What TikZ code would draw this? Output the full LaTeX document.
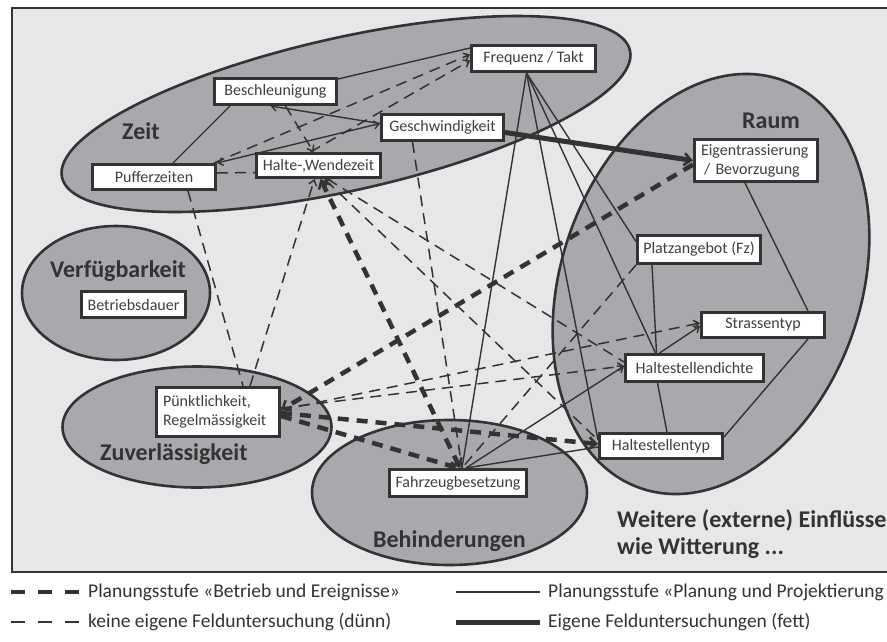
\documentclass[tikz,border=0pt]{standalone}
\usepackage{fontspec}
\setmainfont{Carlito}
\usetikzlibrary{arrows.meta,calc}
\pgfdeclarelayer{panel}
\pgfdeclarelayer{links}
\pgfsetlayers{panel,links,main}
\definecolor{ink}{HTML}{333333}
\definecolor{boxtext}{HTML}{3F3F3F}
\definecolor{panelgray}{HTML}{E6E7E8}
\definecolor{clustergray}{HTML}{A7A9AC}
\begin{document}
\begin{tikzpicture}[x=1pt,y=-1pt,
  factor/.style={draw=ink, line width=3pt, fill=white, text=boxtext,
    font=\fontsize{16}{19}\selectfont, inner sep=0pt},
  cluster/.style={draw=ink, line width=2.6pt, fill=clustergray},
  clusterlabel/.style={text=ink, font=\fontsize{24}{27}\selectfont\bfseries, inner sep=0pt},
  legendtext/.style={text=ink, font=\fontsize{19.5}{22}\selectfont, inner sep=0pt, anchor=west},
  plain/.style={draw=ink, line width=1.4pt},
  weakdash/.style={draw=ink, line width=1.5pt, dash pattern=on 11pt off 7pt},
  strongdash/.style={draw=ink, line width=4.5pt, dash pattern=on 11pt off 8pt},
  strongline/.style={draw=ink, line width=5pt},
  >={Straight Barb[length=5pt,width=8pt]},
  heavy/.style={-{Straight Barb[length=7pt,width=12pt,line width=2.5pt]}},
  heavyboth/.style={{Straight Barb[length=7pt,width=12pt,line width=2.5pt]}-{Straight Barb[length=7pt,width=12pt,line width=2.5pt]}},
]
\useasboundingbox (0,0) rectangle (887,641);

% ---------- factor boxes ----------
\node[factor, minimum width=122pt, minimum height=26pt] (besch)   at (275.5,91.5) {Beschleunigung};
\node[factor, minimum width=124pt, minimum height=26pt] (freq)    at (533.5,58.5) {Frequenz / Takt};
\node[factor, minimum width=122pt, minimum height=26pt] (gesch)   at (442.5,127.5) {Geschwindigkeit};
\node[factor, minimum width=124pt, minimum height=24pt] (halte)   at (318.5,165.5) {Halte-,Wendezeit};
\node[factor, minimum width=123pt, minimum height=25pt] (puffer)  at (154,177) {Pufferzeiten};
\node[factor, minimum width=104pt, minimum height=26pt] (betrieb) at (133.5,304.5) {Betriebsdauer};
\node[factor, minimum width=123pt, minimum height=49pt, text width=110pt, align=left]
  (puenkt) at (218,412) {Pünktlichkeit,\\Regelmässigkeit};
\node[factor, minimum width=137pt, minimum height=27pt] (fahrz)   at (458,483) {Fahrzeugbesetzung};
\node[factor, minimum width=123pt, minimum height=42pt, text width=110pt, align=left]
  (eigen) at (756,160.5) {Eigentrassierung\\\hspace*{3pt}/ Bevorzugung};
\node[factor, minimum width=123pt, minimum height=28pt] (platz)   at (699,249.5) {Platzangebot (Fz)};
\node[factor, minimum width=123pt, minimum height=25pt] (strasse) at (763,325) {Strassentyp};
\node[factor, minimum width=138pt, minimum height=27pt] (hdichte) at (694.5,368) {Haltestellendichte};
\node[factor, minimum width=123pt, minimum height=25pt] (htyp)    at (661,446) {Haltestellentyp};

% ---------- cluster names ----------
\node[clusterlabel, anchor=base west] (lzeit)  at (122,139.5) {Zeit};
\node[clusterlabel, anchor=base west] (lraum)  at (742,128) {Raum};
\node[clusterlabel, anchor=base west] (lverf)  at (50,277) {Verfügbarkeit};
\node[clusterlabel, anchor=base west] (lzuv)   at (100,460) {Zuverlässigkeit};
\node[clusterlabel, anchor=base west] (lbeh)   at (373,547) {Behinderungen};
\node[clusterlabel, anchor=base west] (lext1)  at (617,527) {Weitere (externe) Einflüsse};
\node[clusterlabel, anchor=base west] (lext2)  at (617,554) {wie Witterung ...};

% ---------- legend ----------
\coordinate (la1) at (11,592); \coordinate (lb1) at (79,592);
\coordinate (la2) at (11,622); \coordinate (lb2) at (79,622);
\coordinate (lc1) at (456,592); \coordinate (ld1) at (540,592);
\coordinate (lc2) at (456,622); \coordinate (ld2) at (540,622);
\draw[draw=ink, line width=4pt, dash pattern=on 14pt off 13pt] (la1) -- (lb1);
\draw[draw=ink, line width=1.8pt, dash pattern=on 14pt off 13pt] (la2) -- (lb2);
\draw[plain, line width=1.7pt] (lc1) -- (ld1);
\draw[strongline] (lc2) -- (ld2);
\node[legendtext] (t1) at (88,592) {Planungsstufe «Betrieb und Ereignisse»};
\node[legendtext] (t2) at (88,622) {keine eigene Felduntersuchung (dünn)};
\node[legendtext] (t3) at (548,592) {Planungsstufe «Planung und Projektierung};
\node[legendtext] (t4) at (548,622) {Eigene Felduntersuchungen (fett)};

% ---------- background panel and clusters ----------
\begin{pgfonlayer}{panel}
  \fill[white] (0,0) rectangle (887,641);
  \draw[fill=panelgray, draw=ink, line width=2.5pt] (12,8) rectangle (900,572);
  \draw[cluster, shift={(346,114)}, rotate=12.6] (0,0) ellipse [x radius=291, y radius=76.5];
  \draw[cluster, shift={(711,284)}, rotate=-19] (0,0) ellipse [x radius=150, y radius=216];
  \draw[cluster] (116,293) ellipse [x radius=94, y radius=67];
  \draw[cluster] (197,427) ellipse [x radius=134.5, y radius=60.5];
  \draw[cluster] (449.5,492.5) ellipse [x radius=137.5, y radius=72.5];
\end{pgfonlayer}

% ---------- connectors ----------
\begin{pgfonlayer}{links}
  \coordinate (fq) at ($(freq.south)+(-7,0)$);
  % Zeit cluster
  \draw[plain] ($(besch.north east)+(0,2)$) -- ($(freq.north west)+(0,4)$);
  \draw[plain, ->] ($(gesch.west)+(0,-4)$) -- ($(besch.south)+(-5,0)$);
  \draw[plain, <->] (puffer.north east) -- ($(gesch.west)+(0,-4)$);
  \draw[plain] ($(besch.south west)+(17,0)$) -- ($(puffer.north)+(19,0)$);
  \draw[weakdash] ($(puffer.east)+(0,-4)$) -- ($(halte.west)+(0,7)$);
  \draw[weakdash, ->] ($(puffer.north east)+(-3,0)$) -- ($(freq.west)+(0,-4)$);
  \draw[weakdash, ->] ($(halte.north)+(-8,0)$) -- ($(freq.west)+(0,2)$);
  \draw[weakdash, ->] ($(besch.south)+(10,0)$) -- ($(halte.north)+(-5,0)$);
  % from Halte-,Wendezeit downwards
  \draw[weakdash, ->] ($(puenkt.north)+(32,0)$) -- ($(halte.south)+(-4,0)$);
  \draw[strongdash, heavyboth] ($(halte.south)+(2,0)$) -- ($(fahrz.north)+(2,0)$);
  \draw[weakdash, <-] ($(halte.south)+(6,0)$) -- ($(htyp.west)+(0,-6)$);
  \draw[weakdash] ($(halte.south)+(9,0)$) -- ($(hdichte.west)+(0,-6)$);
  \draw[weakdash] ($(puffer.south)+(34,0)$) -- ($(puenkt.north)+(25,0)$);
  \draw[weakdash] ($(gesch.south)+(-30,0)$) -- ($(fahrz.north)+(4,0)$);
  % strong links
  \draw[strongdash, heavy] ($(eigen.west)+(0,4)$) -- ($(puenkt.east)+(0,-2)$);
  \draw[strongline, heavy] ($(gesch.east)+(0,5)$) -- (eigen.west);
  \draw[strongdash, heavy] ($(puenkt.east)+(0,1)$) -- ($(htyp.west)+(0,-2)$);
  \draw[strongdash] ($(puenkt.east)+(0,4)$) -- (fahrz.north);
  % Pünktlichkeit to Raum
  \draw[weakdash, ->] ($(puenkt.east)+(0,-2)$) -- ($(strasse.west)+(0,-2)$);
  \draw[weakdash, ->] ($(puenkt.east)+(0,-4)$) -- ($(hdichte.west)+(0,-2)$);
  \draw[weakdash] (platz.south west) -- ($(fahrz.north)+(4,0)$);
  % Frequenz fan
  \draw[plain] (fq) -- ($(fahrz.north)+(4,0)$);
  \draw[plain] (fq) -- ($(htyp.west)+(0,-6)$);
  \draw[plain] (fq) -- ($(hdichte.north)+(-39,0)$);
  \draw[plain] (fq) -- ($(platz.west)+(0,-8)$);
  % Fahrzeugbesetzung
  \draw[plain, ->] ($(fahrz.north)+(8,0)$) -- ($(hdichte.west)+(0,-2)$);
  \draw[plain] ($(fahrz.north)+(8,0)$) -- ($(htyp.west)+(0,1)$);
  % Raum cluster
  \draw[plain] ($(platz.south)+(-47,0)$) -- ($(hdichte.north)+(-38,0)$);
  \draw[plain, ->] ($(hdichte.north)+(-35,0)$) -- ($(strasse.west)+(0,1)$);
  \draw[plain] ($(eigen.south)+(-11,0)$) -- ($(strasse.north)+(45,0)$);
  \draw[plain] ($(strasse.south)+(45,0)$) -- ($(htyp.east)+(0,-9)$);
  \draw[plain] ($(hdichte.south)+(-37,0)$) -- ($(htyp.north)+(6,0)$);
\end{pgfonlayer}
\end{tikzpicture}
\end{document}
